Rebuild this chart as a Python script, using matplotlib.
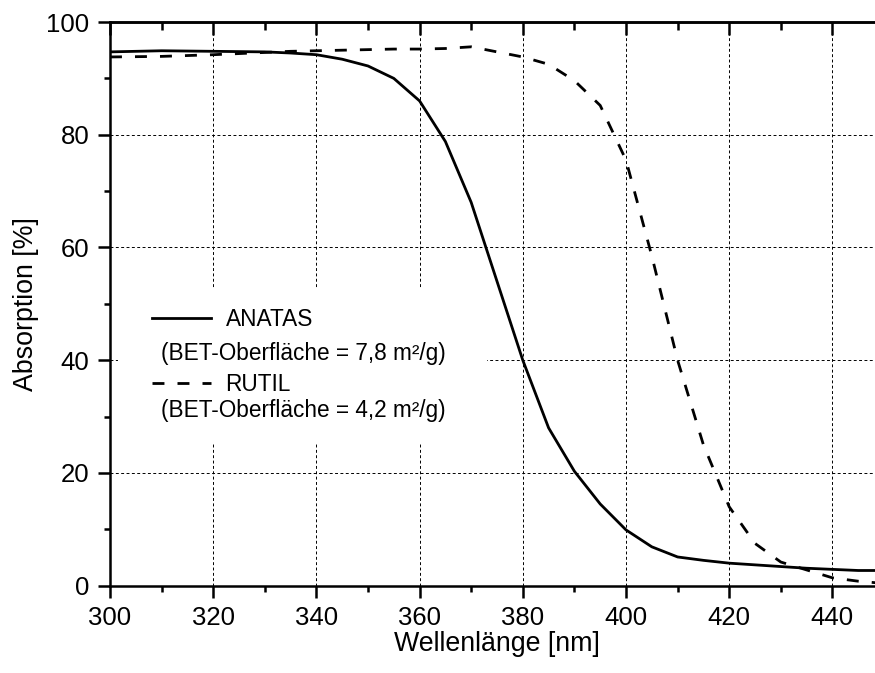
import numpy as np
import matplotlib
matplotlib.use("Agg")
import matplotlib.pyplot as plt
from matplotlib.patches import Rectangle
from matplotlib.ticker import MultipleLocator

plt.rcParams['font.family'] = ['Liberation Sans', 'DejaVu Sans']

# wavelength grid [nm] and absorption [%]
wl = [300, 310, 320, 330, 335, 340, 345, 350, 355, 360, 365, 370, 375,
      380, 385, 390, 395, 400, 405, 410, 415, 420, 425, 430, 435, 440,
      445, 450]
anatas = [94.7, 94.9, 94.8, 94.7, 94.5, 94.2, 93.4, 92.2, 90.0, 86.0,
          78.8, 68.0, 54.0, 40.0, 28.0, 20.3, 14.5, 9.9, 6.9, 5.1, 4.5,
          4.0, 3.7, 3.4, 3.1, 2.9, 2.7, 2.7]
rutil = [93.8, 93.9, 94.2, 94.6, 94.8, 94.9, 95.0, 95.1, 95.2, 95.2,
         95.3, 95.6, 94.7, 93.8, 92.5, 89.6, 85.2, 75.5, 58.5, 40.0,
         25.0, 14.0, 7.5, 4.2, 2.8, 1.4, 0.8, 0.4]

label_a = "ANATAS"
label_r = "RUTIL"
bet_a = "(BET-Oberfläche = 7,8 m²/g)"
bet_r = "(BET-Oberfläche = 4,2 m²/g)"

fig = plt.figure(figsize=(8.75, 6.73), dpi=100)
ax = fig.add_axes([0.1257, 0.1297, 1.0103 - 0.1257, 0.9673 - 0.1297])

ax.plot(wl, anatas, color='black', lw=2.0, zorder=2, label=label_a)
ax.plot(wl, rutil, color='black', lw=2.0, ls=(0, (4.3, 4.7)), zorder=2,
        label=label_r)

ax.set_xlim(300, 450)
ax.set_ylim(0, 100)
ax.xaxis.set_major_locator(MultipleLocator(20))
ax.xaxis.set_minor_locator(MultipleLocator(10))
ax.yaxis.set_major_locator(MultipleLocator(20))
ax.yaxis.set_minor_locator(MultipleLocator(10))

ax.set_axisbelow(True)
ax.grid(True, which='major', color='black', lw=0.7, ls=(0, (3, 2.5)))

for side in ['left', 'bottom', 'top']:
    ax.spines[side].set_linewidth(1.8)
ax.spines['right'].set_visible(False)

ax.tick_params(which='major', direction='out', length=8.5, width=1.8,
               labelsize=18.5)
ax.tick_params(which='minor', direction='out', length=4.5, width=1.8)
ax.tick_params(axis='x', which='major', pad=6)
ax.tick_params(axis='y', which='major', pad=6.5)

top = ax.secondary_xaxis('top')
top.xaxis.set_major_locator(MultipleLocator(20))
top.xaxis.set_minor_locator(MultipleLocator(10))
top.tick_params(which='major', direction='in', length=9, width=1.8,
                labeltop=False)
top.tick_params(which='minor', direction='in', length=5.5, width=1.8)
top.spines['top'].set_linewidth(1.8)

ax.set_xlabel("Wellenlänge [nm]", fontsize=19.3, labelpad=1)
ax.set_ylabel("Absorption [%]", fontsize=19.3, labelpad=5)

# white area behind the legend block
ax.add_patch(Rectangle((0.0103, 0.2532), 0.477, 0.275, transform=ax.transAxes,
                       facecolor='white', edgecolor='none', zorder=1))

leg = ax.legend(loc='upper left', bbox_to_anchor=(0.0543, 0.492),
                frameon=False, fontsize=16.3, handlelength=2.6,
                handletextpad=0.65, labelspacing=1.85, borderpad=0,
                borderaxespad=0)
leg.set_zorder(5)

ax.text(0.0659, 0.4128, bet_a, transform=ax.transAxes, fontsize=16.3,
        va='center', ha='left', zorder=5)
ax.text(0.0659, 0.310, bet_r, transform=ax.transAxes, fontsize=16.3,
        va='center', ha='left', zorder=5)

fig.savefig("out.png", dpi=100)
